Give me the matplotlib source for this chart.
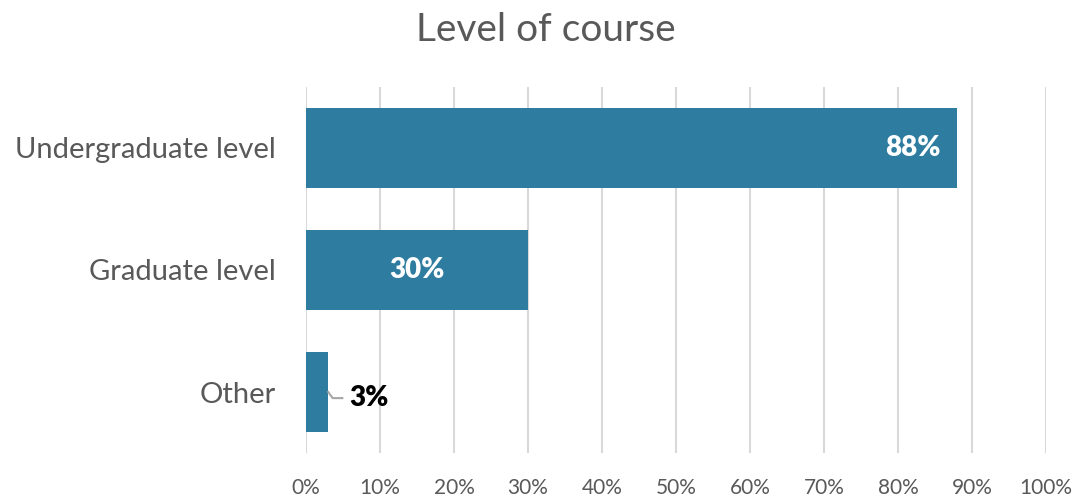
import matplotlib
matplotlib.use('Agg')
import matplotlib.pyplot as plt
from matplotlib.ticker import MultipleLocator, FuncFormatter

plt.rcParams['font.family'] = ['Lato', 'DejaVu Sans']

# 数据
categories = ['Undergraduate level', 'Graduate level', 'Other']
values = [88, 30, 3]
bar_color = '#2E7CA0'

fig = plt.figure(figsize=(10.78, 4.97), dpi=100)
ax = fig.add_axes([0.2839, 0.0885, 0.6864, 0.7365])

y = list(range(len(categories)))
bars = ax.barh(y, values, height=0.66, color=bar_color, zorder=3)
ax.set_yticks(y)
ax.set_yticklabels(categories)
ax.set_ylim(2.5, -0.5)

ax.set_xlim(0, 100)
ax.xaxis.set_major_locator(MultipleLocator(10))
ax.xaxis.set_major_formatter(FuncFormatter(lambda v, p: f'{v:.0f}%'))
ax.grid(axis='x', color='#D9D9D9', linewidth=1.5, zorder=0)
for s in ax.spines.values():
    s.set_visible(False)
ax.tick_params(axis='both', length=0, labelcolor='#595959')
ax.tick_params(axis='y', labelsize=21, pad=22)
ax.tick_params(axis='x', labelsize=15, pad=18)

# 数据标签
ax.text(values[0] - 2.3, 0, f'{values[0]}%', color='white', fontsize=20,
        fontweight='heavy', ha='right', va='center', zorder=4)
ax.text(values[1] / 2, 1, f'{values[1]}%', color='white', fontsize=20,
        fontweight='heavy', ha='center', va='center', zorder=4)
ax.plot([values[2], values[2] + 0.6, values[2] + 1.9], [2.0, 2.05, 2.05],
        color='#A6A6A6', linewidth=1.5, zorder=4)
ax.text(values[2] + 2.9, 2.05, f'{values[2]}%', color='black', fontsize=20,
        fontweight='heavy', ha='left', va='center', zorder=4)

fig.text(0.506, 0.94, 'Level of course', fontsize=28, color='#595959',
         ha='center', va='center')

fig.savefig('out.png', dpi=100)
